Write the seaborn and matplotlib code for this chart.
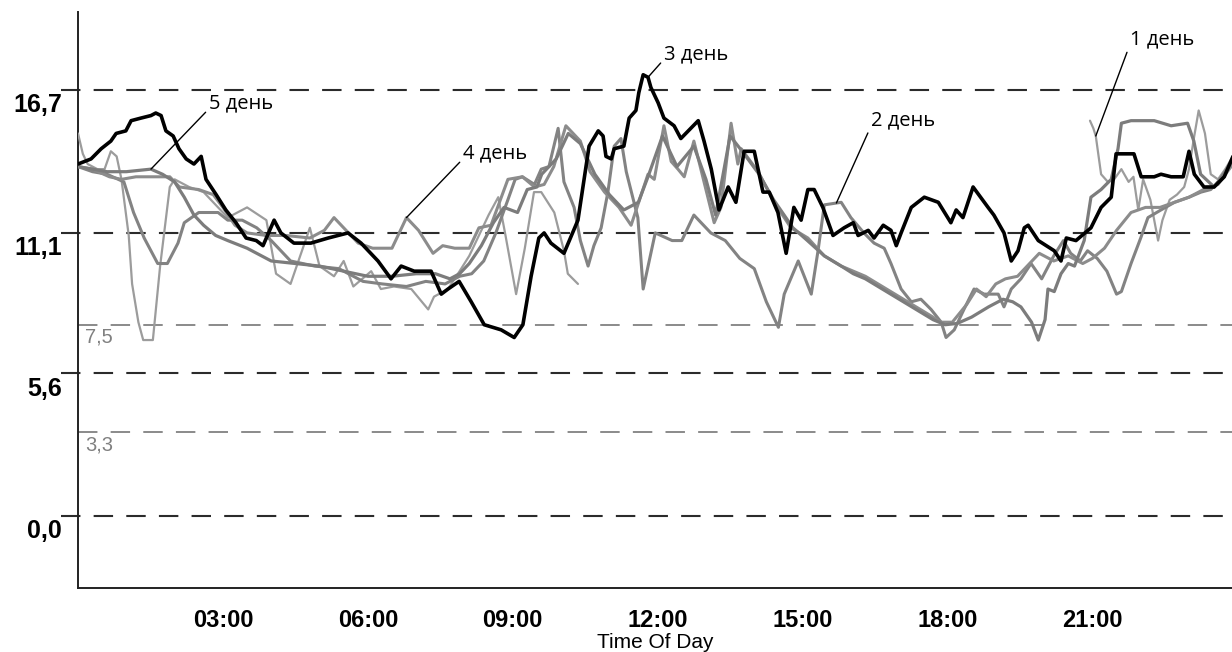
import numpy as np
import pandas as pd
import matplotlib
matplotlib.use("Agg")
import matplotlib.pyplot as plt
import seaborn as sns

# Hours of the day and glucose readings (mmol/l) for each day of the sensor
day1_t = [20.95, 21.02, 21.07, 21.18, 21.32, 21.45, 21.6, 21.75, 21.85, 21.95, 22.05, 22.2, 22.36, 22.45,
          22.6, 22.75, 22.9, 23.0, 23.1, 23.2, 23.33, 23.45, 23.6, 23.75, 23.91]
day1_v = [15.5, 15.2, 14.9, 13.4, 13.1, 13.2, 13.6, 13.1, 13.3, 12.0, 13.2, 12.4, 10.8, 11.6,
          12.4, 12.6, 12.9, 13.6, 14.8, 15.9, 15.0, 13.4, 13.2, 13.6, 14.1]

day2_t = [0.0, 0.3, 0.6, 0.95, 1.15, 1.37, 1.65, 1.85, 2.07, 2.2, 2.5, 2.9, 3.1, 3.4, 3.7, 4.0, 4.4, 4.9,
          5.4, 5.9, 6.3, 6.8, 7.2, 7.6, 7.9, 8.15, 8.4, 8.65, 8.9, 9.05, 9.2, 9.45, 9.59, 9.75, 9.94,
          10.06, 10.27, 10.4, 10.56, 10.68, 10.83, 10.97, 11.1, 11.24, 11.35, 11.59, 11.7, 11.95, 12.3,
          12.5, 12.75, 13.1, 13.4, 13.7, 14.0, 14.25, 14.5, 14.62, 14.91, 15.18, 15.32, 15.45, 15.8,
          16.0, 16.27, 16.48, 16.69, 16.83, 17.04, 17.25, 17.45, 17.66, 17.87, 17.97, 18.14, 18.34,
          18.55, 18.76, 19.05, 19.17, 19.32, 19.52, 19.73, 19.95, 20.2, 20.4, 20.55, 20.75, 20.9,
          21.1, 21.3, 21.5, 21.6, 21.8, 22.0, 22.15, 22.42, 22.7, 23.0, 23.25, 23.45, 23.65, 23.91]
day2_v = [13.7, 13.5, 13.4, 13.1, 11.9, 10.9, 9.9, 9.9, 10.7, 11.5, 11.9, 11.9, 11.6, 11.6, 11.3, 10.8,
          10.0, 9.8, 9.7, 9.2, 9.1, 9.0, 9.2, 9.1, 9.4, 9.5, 10.0, 11.1, 12.4, 13.2, 13.3, 13.0, 13.6,
          13.7, 15.2, 13.1, 12.1, 10.8, 9.8, 10.6, 11.3, 12.7, 14.5, 14.8, 13.5, 11.7, 8.9, 11.1, 10.8,
          10.8, 11.8, 11.1, 10.8, 10.1, 9.7, 8.4, 7.4, 8.7, 10.0, 8.7, 10.4, 12.2, 12.3,
          11.7, 11.1, 10.7, 10.5, 9.9, 8.9, 8.4, 8.5, 8.1, 7.6, 7.0, 7.3, 8.1,
          8.9, 8.7, 8.7, 8.2, 8.9, 9.3, 9.9, 9.3, 10.2, 10.8, 10.3, 10.0, 10.4,
          10.1, 9.6, 8.7, 8.8, 9.9, 10.9, 11.7, 12.0, 12.3, 12.5, 12.7, 12.8, 13.2, 14.0]

day3_t = [0.0, 0.27, 0.48, 0.68, 0.79, 0.99, 1.10, 1.30, 1.51, 1.61, 1.72, 1.82, 1.97, 2.09, 2.24, 2.40,
          2.55, 2.65, 2.86, 3.06, 3.27, 3.48, 3.69, 3.83, 4.06, 4.20, 4.47, 4.82, 5.18, 5.59, 5.86, 6.21,
          6.48, 6.69, 6.96, 7.31, 7.52, 7.66, 7.89, 8.14, 8.41, 8.76, 9.03, 9.21, 9.38, 9.54, 9.65, 9.79,
          10.06, 10.35, 10.58, 10.77, 10.87, 10.93, 11.04, 11.10, 11.30, 11.41, 11.55, 11.61, 11.70,
          11.80, 11.86, 12.01, 12.13, 12.34, 12.48, 12.84, 12.96, 13.11, 13.27, 13.46, 13.62, 13.79,
          14.00, 14.18, 14.31, 14.49, 14.66, 14.82, 14.97, 15.11, 15.24, 15.42, 15.63, 15.86, 16.05,
          16.15, 16.36, 16.48, 16.67, 16.83, 16.94, 17.04, 17.25, 17.52, 17.81, 18.07, 18.18, 18.32,
          18.53, 18.84, 18.96, 19.17, 19.32, 19.46, 19.59, 19.67, 19.88, 20.21, 20.35, 20.46, 20.66,
          20.97, 21.18, 21.39, 21.49, 21.86, 22.01, 22.28, 22.42, 22.63, 22.88, 23.00, 23.11, 23.31,
          23.52, 23.73, 23.91]
day3_v = [13.8, 14.0, 14.4, 14.7, 15.0, 15.1, 15.5, 15.6, 15.7, 15.8, 15.7, 15.1, 14.9, 14.4, 14.0, 13.8,
          14.1, 13.2, 12.6, 12.0, 11.5, 10.9, 10.8, 10.6, 11.6, 11.1, 10.7, 10.7, 10.9, 11.1, 10.7, 10.0,
          9.3, 9.8, 9.6, 9.6, 8.7, 8.9, 9.2, 8.4, 7.5, 7.3, 7.0, 7.5, 9.4, 10.9, 11.1, 10.7,
          10.3, 11.6, 14.5, 15.1, 14.9, 14.1, 14.0, 14.4, 14.5, 15.6, 15.9, 16.6, 17.3,
          17.2, 16.8, 16.2, 15.6, 15.3, 14.8, 15.5, 14.7, 13.6, 12.0, 12.9, 12.3, 14.3,
          14.3, 12.7, 12.7, 11.9, 10.3, 12.1, 11.6, 12.8, 12.8, 12.1, 11.0, 11.3, 11.5,
          11.0, 11.2, 10.9, 11.4, 11.2, 10.6, 11.1, 12.1, 12.5, 12.3, 11.5, 12.0, 11.7,
          12.9, 12.1, 11.8, 11.1, 10.0, 10.4, 11.3, 11.4, 10.8, 10.4, 10.0, 10.9, 10.8,
          11.3, 12.1, 12.5, 14.2, 14.2, 13.3, 13.3, 13.4, 13.3, 13.3, 14.3, 13.4, 12.9,
          12.9, 13.3, 14.1]

day4_t = [0.0, 0.3, 0.65, 0.9, 1.2, 1.5, 1.9, 2.1, 2.5, 2.8, 3.0, 3.25, 3.5, 3.9, 4.3, 4.8, 5.1, 5.3, 5.5,
          5.8, 6.1, 6.5, 6.8, 7.05, 7.35, 7.55, 7.8, 8.1, 8.3, 8.55, 8.9, 9.2, 9.45, 9.65, 9.85, 10.1,
          10.4, 10.6, 10.9, 11.2, 11.45, 11.8, 11.93, 12.13, 12.28, 12.42, 12.55, 12.75, 12.96, 13.17,
          13.31, 13.52, 13.66, 13.73, 14.08, 14.41, 14.76, 15.11, 15.45, 15.8, 16.05, 16.3, 16.65, 17.0,
          17.35, 17.7, 17.85, 18.1, 18.4, 18.6, 18.8, 19.0, 19.2, 19.45, 19.65, 19.9, 20.2, 20.5, 20.8,
          21.0, 21.25, 21.5, 21.8, 22.1, 22.4, 22.7, 23.0, 23.3, 23.6, 23.91]
day4_v = [13.7, 13.6, 13.3, 13.2, 13.3, 13.3, 13.3, 12.9, 12.8, 12.6, 12.1, 11.4, 11.1, 11.0, 11.0, 10.9,
          11.2, 11.7, 11.3, 10.7, 10.5, 10.5, 11.7, 11.2, 10.3, 10.6, 10.5, 10.5, 11.3, 11.4, 13.2, 13.3,
          12.9, 13.0, 13.7, 15.3, 14.7, 13.5, 12.7, 12.1, 11.4, 13.4, 13.2, 15.3, 13.9, 13.6, 13.3, 14.7,
          13.1, 11.5, 12.1, 15.4, 13.8, 14.4, 13.5, 12.3, 11.3, 10.9, 10.2, 9.8, 9.6, 9.4, 9.0, 8.6,
          8.2, 7.8, 7.6, 7.6, 8.3, 8.9, 8.6, 9.1, 9.3, 9.4, 9.8, 10.3, 10.0, 10.2, 9.9,
          10.1, 10.5, 11.2, 11.9, 12.1, 12.1, 12.3, 12.5, 12.8, 13.0, 13.8]

day5_t = [0.0, 0.3, 0.6, 1.0, 1.51, 1.75, 2.0, 2.2, 2.4, 2.6, 2.85, 3.1, 3.5, 3.8, 4.0, 4.5, 5.0, 5.5, 6.0,
          6.5, 7.0, 7.4, 7.7, 7.9, 8.1, 8.35, 8.6, 8.82, 9.1, 9.3, 9.5, 9.6, 9.9, 10.15, 10.4, 10.7,
          11.0, 11.3, 11.6, 11.8, 12.1, 12.4, 12.75, 13.0, 13.2, 13.5, 13.75, 14.1, 14.4, 14.8, 15.1,
          15.45, 15.8, 16.05, 16.3, 16.65, 17.0, 17.35, 17.7, 17.95, 18.2, 18.5, 18.85, 19.15, 19.35,
          19.52, 19.74, 19.88, 20.02, 20.08, 20.21, 20.35, 20.5, 20.63, 20.83, 20.97, 21.18, 21.39,
          21.53, 21.6, 21.8, 22.28, 22.63, 22.97, 23.1, 23.24, 23.52, 23.8, 23.91]
day5_v = [13.7, 13.6, 13.5, 13.5, 13.6, 13.4, 13.1, 12.5, 11.8, 11.4, 11.0, 10.8, 10.5, 10.2, 10.0, 9.9,
          9.8, 9.6, 9.4, 9.4, 9.5, 9.5, 9.3, 9.5, 9.9, 10.6, 11.5, 12.1, 11.9, 12.8, 12.9, 13.4, 14.0,
          15.0, 14.6, 13.4, 12.6, 12.0, 12.3, 13.3, 14.9, 13.7, 14.5, 13.2, 11.8, 14.9, 14.3, 13.4,
          12.4, 11.3, 10.8, 10.2, 9.8, 9.5, 9.3, 8.9, 8.5, 8.1, 7.7, 7.5, 7.55, 7.8, 8.2, 8.5, 8.4,
          8.2, 7.6, 6.9, 7.7, 8.9, 8.8, 9.5, 9.9, 9.8, 10.8, 12.5, 12.8, 13.2, 14.4, 15.4, 15.5,
          15.5, 15.3, 15.4, 14.7, 13.4, 12.9, 13.6, 14.0]

day6_t = [0.0, 0.1, 0.2, 0.4, 0.55, 0.68, 0.8, 0.9, 1.05, 1.12, 1.25, 1.35, 1.55, 1.7, 1.9, 2.0, 2.3,
          2.6, 3.1, 3.3, 3.5, 3.9, 4.1, 4.4, 4.8, 5.0, 5.3, 5.5, 5.7, 6.07, 6.27, 6.54, 6.9, 7.25, 7.37,
          7.66, 7.9, 8.1, 8.3, 8.5, 8.7, 8.85, 9.07, 9.25, 9.44, 9.59, 9.86, 10.06, 10.14, 10.35]
day6_v = [15.0, 14.2, 13.8, 13.6, 13.6, 14.3, 14.1, 13.2, 11.0, 9.1, 7.6, 6.9, 6.9, 9.8, 12.9, 13.2,
          12.9, 12.7, 11.7, 11.9, 12.1, 11.6, 9.5, 9.1, 11.3, 9.8, 9.4, 10.0, 9.0, 9.6, 8.9, 9.0, 8.9,
          8.1, 8.6, 8.9, 9.6, 10.2, 11.0, 11.8, 12.5, 11.0, 8.7, 10.5, 12.7, 12.7, 11.9, 10.4, 9.5, 9.1]

days = ["1 день", "2 день", "3 день", "4 день", "5 день", "6 день"]
times = [day1_t, day2_t, day3_t, day4_t, day5_t, day6_t]
values = [day1_v, day2_v, day3_v, day4_v, day5_v, day6_v]
colors = ["#9c9c9c", "#838383", "#000000", "#8c8c8c", "#7c7c7c", "#9c9c9c"]
widths = [1.6, 2.2, 2.6, 2.2, 2.3, 1.6]

# reference levels
dark_levels = [0.0, 5.6, 11.1, 16.7]
dark_labels = ["0,0", "5,6", "11,1", "16,7"]
light_levels = [3.3, 7.5]
light_labels = ["3,3", "7,5"]

hour_ticks = [3, 6, 9, 12, 15, 18, 21]
hour_labels = ["03:00", "06:00", "09:00", "12:00", "15:00", "18:00", "21:00"]

# label text position (hour, value) and the hour the leader points to
label_pos = {"5 день": (2.71, 16.16, 1.51),
             "4 день": (7.97, 14.2, 6.8),
             "3 день": (12.13, 18.1, 11.8),
             "2 день": (16.42, 15.5, 15.7),
             "1 день": (21.78, 18.7, 21.07)}

df = pd.concat([pd.DataFrame({"hour": t, "glucose": v, "day": d})
                for d, t, v in zip(days, times, values)], ignore_index=True)

sns.set_style("white")
plt.rcParams["font.family"] = ["Liberation Sans", "DejaVu Sans"]
plt.rcParams["text.color"] = "black"
plt.rcParams["xtick.color"] = "black"
plt.rcParams["axes.labelcolor"] = "black"
plt.rcParams["lines.scale_dashes"] = False

fig = plt.figure(figsize=(12.32, 6.52), dpi=100)
ax = fig.add_axes([78 / 1232, 64 / 652, 1154 / 1232, 576 / 652])

dash = (0, (14.0, 9.5))
for lv in dark_levels:
    ax.axhline(lv, xmin=-0.0147, xmax=1, color="#2b2b2b", lw=1.5, ls=dash, clip_on=False, zorder=1)
for lv in light_levels:
    ax.axhline(lv, color="#8a8a8a", lw=1.4, ls=dash, zorder=1)

order = [5, 0, 1, 3, 4, 2]
for i in order:
    sub = df[df["day"] == days[i]]
    sns.lineplot(data=sub, x="hour", y="glucose", color=colors[i], linewidth=widths[i],
                 estimator=None, sort=False, ax=ax, zorder=3 + (i == 2))

for name, (tx, ty, th) in label_pos.items():
    idx = days.index(name)
    yv = np.interp(th, times[idx], values[idx])
    ax.annotate(name, xy=(th, yv), xytext=(tx, ty), ha="left", va="center",
                fontsize=14.5, color="black", family=["Open Sans", "DejaVu Sans"],
                arrowprops=dict(arrowstyle="-", color="black", lw=1.0, shrinkA=0, shrinkB=0,
                                relpos=(0.0, 0.25)), zorder=6)

ax.set_xlim(0, 23.89)
ax.set_ylim(-2.82, 19.76)

ax.set_yticks([])
for lv, lab in zip(dark_levels, dark_labels):
    ax.text(-0.014, lv - 0.6, lab, transform=ax.get_yaxis_transform(), ha="right", va="center",
            fontsize=18, fontweight="bold", color="black")
for lv, lab in zip(light_levels, light_labels):
    ax.text(0.15, lv - 0.5, lab, ha="left", va="center", fontsize=14.5, color="#808080")

ax.set_xticks(hour_ticks)
ax.set_xticklabels(hour_labels, fontsize=17, fontweight="bold")
ax.set_xticks(range(1, 24), minor=True)
ax.tick_params(axis="x", which="major", direction="in", length=10, width=1.2, color="#222222", pad=15)
ax.tick_params(axis="x", which="minor", direction="in", length=5, width=1.2, color="#222222")
ax.set_xlabel("Time Of Day", fontsize=15, labelpad=1)
ax.set_ylabel("")

for s in ["top", "right"]:
    ax.spines[s].set_visible(False)
for s in ["left", "bottom"]:
    ax.spines[s].set_color("#222222")
    ax.spines[s].set_linewidth(1.4)

fig.savefig("out.png", dpi=100)
